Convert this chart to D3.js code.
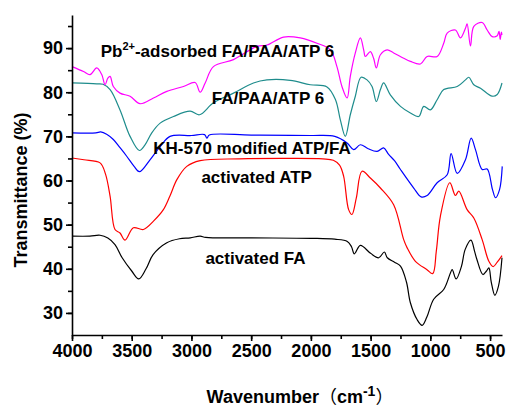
<!DOCTYPE html>
<html>
<head>
<meta charset="utf-8">
<script src="https://cdn.jsdelivr.net/npm/d3@7"></script>
<style>
body { margin: 0; background: #fff; }
text { font-family: "Liberation Sans", Arial, sans-serif; font-weight: bold; }
</style>
</head>
<body>
<div id="chart"></div>
<script>
const margin = {top: 15, bottom: 74, right: 4, left: 72}
const width = 506 - margin.left - margin.right;
const height = 409 - margin.top - margin.bottom;

// [wavenumber, transmittance]
const activatedFA = [[4000,47.4],[3850,47.4],[3765,47.6],[3700,47.0],[3640,45.5],[3580,42.5],[3500,39.5],[3441,37.7],[3380,40],[3321,43.2],[3206,45.9],[3100,46.8],[3010,47.0],[2927,47.4],[2880,47.1],[2500,47.0],[2000,46.9],[1800,46.7],[1695,46.2],[1660,45],[1636,43.4],[1586,45.3],[1500,43.5],[1432,42.5],[1385,43.8],[1360,42.5],[1300,41.5],[1250,40.6],[1200,37],[1167,32.3],[1111,28.5],[1069,27.2],[1030,29],[972,33.1],[888,35.3],[831,39.1],[817,39.8],[784,37.7],[740,40.5],[708,44.4],[660,46.5],[630,44],[610,42.1],[560,38.7],[530,39.5],[510,40.2],[490,37],[460,34.0],[430,36],[400,42.5]]
const activatedATP = [[4000,65.1],[3900,64.7],[3765,64.0],[3720,61.5],[3681,56.4],[3640,48.9],[3598,48.1],[3556,46.5],[3486,49.3],[3402,48.9],[3318,50.8],[3235,53.4],[3180,56.5],[3122,60.2],[3039,63.2],[2927,64.5],[2600,64.9],[2200,65],[1900,64.9],[1812,64.6],[1760,63.5],[1726,61.0],[1684,53.4],[1656,52.3],[1620,56],[1572,62.1],[1500,60.5],[1418,58.3],[1307,54.5],[1223,46.6],[1195,44.8],[1125,41.7],[1028,39.8],[980,38.9],[950,44],[916,51.9],[837,59.5],[790,56.6],[762,57.6],[692,53.4],[636,51.5],[566,46.6],[510,41.7],[474,40.5],[440,41.5],[400,43.0]]
const kh570 = [[4000,70.8],[3800,70.8],[3760,71.0],[3710,70.5],[3654,69.3],[3600,67.5],[3542,65.5],[3480,63.2],[3436,62.0],[3347,64.7],[3262,67.7],[3179,70.0],[3000,70.2],[2890,70.4],[2871,69.6],[2850,70.3],[2500,70.3],[2000,70.2],[1800,70.0],[1697,68.5],[1642,67.0],[1586,68.1],[1520,67.2],[1446,66.6],[1391,67.4],[1349,65.9],[1300,64.5],[1250,62.5],[1139,58.3],[1077,56.3],[1027,56.6],[943,59.5],[859,61.3],[826,66.1],[775,61.6],[706,64.7],[658,69.6],[622,67.0],[566,62.5],[524,62.6],[480,58],[454,56.1],[420,58],[398,63.2]]
const faPaaAtp = [[4000,82.1],[3793,81.9],[3740,81.8],[3681,80.6],[3598,76.0],[3514,70.0],[3436,66.8],[3390,68],[3332,70.8],[3262,73.0],[3151,74.5],[3011,75.7],[2933,74.9],[2816,77.6],[2648,79.8],[2481,82.1],[2368,82.8],[2173,82.7],[2005,81.7],[1865,81.2],[1794,78.3],[1754,73.8],[1712,70.0],[1670,74.9],[1628,79.1],[1580,83.4],[1530,82.8],[1488,81.3],[1452,77.9],[1418,80.6],[1391,82.1],[1335,79.4],[1250,76.8],[1167,75.3],[1097,74.5],[1055,76.8],[1000,76.0],[943,78.3],[888,80.6],[775,81.3],[706,82.8],[678,83.4],[636,81.7],[580,80.9],[482,79.1],[440,79.5],[400,82.1]]
const pbAdsorbed = [[4000,85.8],[3904,84.7],[3849,84.0],[3793,85.5],[3751,84.0],[3723,81.7],[3700,83.2],[3681,83.6],[3654,81.3],[3598,79.8],[3514,79.1],[3430,77.4],[3318,78.7],[3206,80.2],[3067,81.3],[2969,82.2],[2927,80.0],[2885,82.1],[2816,85.8],[2648,87.4],[2452,90.4],[2368,90.7],[2229,92.5],[2089,92.3],[1949,91.1],[1837,89.6],[1782,85.8],[1740,81.3],[1697,78.7],[1670,83.6],[1628,88.9],[1586,92.3],[1558,89.6],[1544,88.1],[1502,89.2],[1475,87.7],[1452,85.5],[1418,88.5],[1362,89.6],[1307,88.9],[1223,87.7],[1167,87.0],[1083,86.4],[1027,88.1],[943,88.1],[888,91.1],[859,93.4],[790,94.1],[748,92.3],[706,94.5],[692,95.5],[664,90.5],[636,94.9],[566,95.8],[524,94.1],[482,92.6],[440,92.8],[425,93.8],[415,92.0],[405,93.6],[400,93.0]]

const series = [activatedFA, activatedATP, kh570, faPaaAtp, pbAdsorbed]
const colors = ["#000000", "#ff0000", "#0000ff", "#1e8c8c", "#ff00ff"]

// label text, wavenumber at centre, transmittance at baseline
const labelTexts = ["activated FA", "activated ATP", "KH-570 modified ATP/FA", "FA/PAA/ATP 6", "-adsorbed FA/PAA/ATP 6"]
const labelWn = [2464, 2454, 2493, 2359, 2782]
const labelT = [41.0, 59.4, 65.9, 77.3, 87.9]

const xTicks = [4000, 3500, 3000, 2500, 2000, 1500, 1000, 500]
const yTicks = [30, 40, 50, 60, 70, 80, 90]

const svg = d3.select("#chart")
  .append("svg")
  .attr("width", 506)
  .attr("height", 409)

const g = svg.append("g")
  .attr("transform", `translate(${margin.left},${margin.top})`)

const x = d3.scaleLinear().domain([4000, 400]).range([0, width])
const y = d3.scaleLinear().domain([25, 97.5]).range([height, 0])

const line = d3.line()
  .x(d => x(d[0]))
  .y(d => y(d[1]))
  .curve(d3.curveCatmullRom.alpha(0.5))

g.selectAll(".spectrum")
  .data(series)
  .enter()
  .append("path")
  .attr("class", "spectrum")
  .attr("d", line)
  .attr("fill", "none")
  .attr("stroke", (d, i) => colors[i])
  .attr("stroke-width", 1.2)

// minor ticks
g.append("g")
  .attr("transform", `translate(0,${height})`)
  .call(d3.axisBottom(x).tickValues(d3.range(4000, 399, -250)).tickSize(4).tickFormat(""))
  .call(a => a.select(".domain").remove())
g.append("g")
  .call(d3.axisLeft(y).tickValues(d3.range(30, 97, 5)).tickSize(4).tickFormat(""))
  .call(a => a.select(".domain").remove())

// x-axis
const xAxis = g.append("g")
  .attr("transform", `translate(0,${height})`)
  .call(d3.axisBottom(x).tickValues(xTicks).tickFormat(d3.format("d")).tickSize(6).tickSizeOuter(0).tickPadding(3))
xAxis.selectAll("text").attr("font-size", 18).attr("font-family", null)

// y-axis
const yAxis = g.append("g")
  .call(d3.axisLeft(y).tickValues(yTicks).tickFormat(d3.format("d")).tickSize(6).tickSizeOuter(0).tickPadding(3))
yAxis.selectAll("text").attr("font-size", 18).attr("font-family", null)

g.selectAll(".domain, .tick line").attr("stroke-width", 1.6)

svg.append("text")
  .attr("text-anchor", "middle")
  .attr("font-size", 18)
  .attr("transform", "translate(27,190) rotate(-90)")
  .text("Transmittance (%)")

const xt = svg.append("text")
  .attr("text-anchor", "middle")
  .attr("font-size", 18)
  .attr("x", 300)
  .attr("y", 403)
xt.append("tspan").text("Wavenumber")
xt.append("tspan").attr("font-family", "Noto Sans CJK SC").attr("font-weight", "normal").text("（")
xt.append("tspan").text("cm")
xt.append("tspan").attr("dy", -7).attr("font-size", 14).text("-1")
xt.append("tspan").attr("dy", 7).attr("font-family", "Noto Sans CJK SC").attr("font-weight", "normal").text("）")

// curve labels
labelTexts.forEach(function(t, i) {
  const lab = g.append("text")
    .attr("text-anchor", "middle")
    .attr("font-size", 17)
    .attr("x", x(labelWn[i]))
    .attr("y", y(labelT[i]))
  if (i === 4) {
    lab.append("tspan").text("Pb")
    lab.append("tspan").attr("dy", -7).attr("font-size", 11).text("2+")
    lab.append("tspan").attr("dy", 7).text(t)
  } else {
    lab.text(t)
  }
})
</script>
</body>
</html>
